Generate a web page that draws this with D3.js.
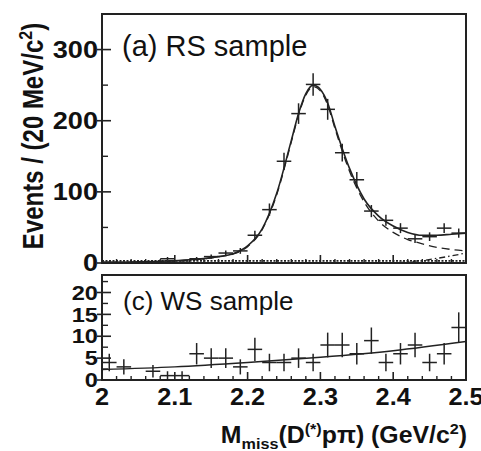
<!DOCTYPE html>
<html>
<head>
<meta charset="utf-8">
<script src="https://cdn.jsdelivr.net/npm/d3@7"></script>
<style>
  body { margin: 0; background: #fff; }
  text { font-family: "Liberation Sans", Arial, sans-serif; fill: #111; }
</style>
</head>
<body>
<svg id="chart" width="481" height="451"></svg>
<script>
// bin centres (20 MeV bins)
const massBins = [2.01, 2.03, 2.05, 2.07, 2.09, 2.11, 2.13, 2.15, 2.17, 2.19, 2.21, 2.23, 2.25,
                  2.27, 2.29, 2.31, 2.33, 2.35, 2.37, 2.39, 2.41, 2.43, 2.45, 2.47, 2.49];
const rsCounts = [1, 0, 1, 1, 6, 1, 6, 9, 14, 17, 39, 75, 143,
                  210, 251, 216, 155, 117, 73, 60, 49, 34, 37, 49, 42];
const wsCounts = [4, 3, 0, 2, 1, 1, 6, 5, 5, 3, 7, 4, 4,
                  5, 4, 8, 8, 6, 9, 4, 6, 8, 4, 6, 12];

// fit curves
const rsFitMass   = [2.00, 2.04, 2.08, 2.12, 2.16, 2.18, 2.20, 2.22, 2.24, 2.26, 2.27, 2.28, 2.29,
                     2.30, 2.31, 2.32, 2.34, 2.36, 2.38, 2.40, 2.42, 2.44, 2.46, 2.48, 2.50];
const rsFitTotal  = [1, 1.5, 2.5, 4.5, 9, 13, 24, 48, 98, 172, 210, 238, 250,
                     244, 225, 192, 133, 90, 66, 52, 43, 39, 39, 40.5, 42];
const rsFitSignal = [0.5, 1, 2, 4, 8.5, 12.5, 23, 47, 96, 170, 208, 236, 248,
                     242, 222, 189, 129, 86, 59, 43, 33, 27, 22, 19, 17];
const rsFitBkg    = [0, 0, 0, 0, 0, 0, 0, 0, 0, 0, 0, 0, 0,
                     0, 0, 0, 0, 0, 0, 0.5, 1.5, 3.5, 6.5, 10, 14];
const rsFlatMass  = [2.00, 2.50];
const rsFlatBkg   = [3, 3];
const wsFitMass   = [2.0, 2.1, 2.2, 2.3, 2.4, 2.5];
const wsFit       = [2.4, 3.0, 4.0, 5.2, 6.7, 8.8];

const rsTicks = [0, 100, 200, 300];
const wsTicks = [0, 5, 10, 15, 20];
const massTicks = [2, 2.1, 2.2, 2.3, 2.4, 2.5];

const svg = d3.select("#chart");
const left = 102, right = 466;
const top1 = { top: 14, bottom: 263 };
const top2 = { top: 275, bottom: 380 };

const x = d3.scaleLinear().domain([2, 2.5]).range([left, right]);
const yRS = d3.scaleLinear().domain([0, 350]).range([top1.bottom, top1.top]);
const yWS = d3.scaleLinear().domain([0, 24]).range([top2.bottom, top2.top]);

const ink = "#222";
const halfBin = 0.01;

function drawFrame(y, panel, majors, minors, labelSize, showXLabels) {
  const g = svg.append("g");
  // minor ticks inside
  g.selectAll(".ymin").data(minors).enter().append("line")
    .attr("x1", left).attr("x2", left + 6)
    .attr("y1", d => y(d)).attr("y2", d => y(d))
    .attr("stroke", ink).attr("stroke-width", 1.4);
  g.selectAll(".ymaj").data(majors).enter().append("line")
    .attr("x1", left - 5).attr("x2", left + 9)
    .attr("y1", d => y(d)).attr("y2", d => y(d))
    .attr("stroke", ink).attr("stroke-width", 1.6);
  g.selectAll(".ylab").data(majors).enter().append("text")
    .attr("transform", d => `translate(${left - 4},${y(d) + labelSize * 0.36}) scale(1.18,1)`)
    .attr("text-anchor", "end")
    .attr("font-weight", "bold")
    .attr("font-size", labelSize)
    .text(d => d);

  // x ticks on the bottom edge
  const xMinor = d3.range(2.02, 2.5, 0.02).filter(v => Math.abs(v * 10 - Math.round(v * 10)) > 1e-6);
  g.selectAll(".xmin").data(xMinor).enter().append("line")
    .attr("x1", d => x(d)).attr("x2", d => x(d))
    .attr("y1", panel.bottom).attr("y2", panel.bottom - 4)
    .attr("stroke", ink).attr("stroke-width", 1.4);
  g.selectAll(".xmaj").data(massTicks).enter().append("line")
    .attr("x1", d => x(d)).attr("x2", d => x(d))
    .attr("y1", panel.bottom).attr("y2", panel.bottom - 8)
    .attr("stroke", ink).attr("stroke-width", 1.6);
  if (showXLabels) {
    g.selectAll(".xlab").data(massTicks).enter().append("text")
      .attr("transform", d => `translate(${x(d)},405) scale(1.1,1)`)
      .attr("text-anchor", "middle")
      .attr("font-weight", "bold")
      .attr("font-size", 23)
      .text(d => d);
  }

  g.append("rect")
    .attr("x", left).attr("y", panel.top)
    .attr("width", right - left).attr("height", panel.bottom - panel.top)
    .attr("fill", "none").attr("stroke", ink).attr("stroke-width", 2);
}

function drawPoints(y, counts) {
  const pts = massBins.map((m, i) => ({ m: m, n: counts[i] })).filter(d => d.n > 0);
  const g = svg.append("g").attr("stroke", ink).attr("stroke-width", 1.5);
  g.selectAll(".h").data(pts).enter().append("line")
    .attr("x1", d => x(d.m - halfBin)).attr("x2", d => x(d.m + halfBin))
    .attr("y1", d => y(d.n)).attr("y2", d => y(d.n));
  g.selectAll(".v").data(pts).enter().append("line")
    .attr("x1", d => x(d.m)).attr("x2", d => x(d.m))
    .attr("y1", d => y(d.n - Math.sqrt(d.n))).attr("y2", d => y(d.n + Math.sqrt(d.n)));
}

function drawCurve(xs, ys, y, dash, width) {
  const line = d3.line()
    .x(d => x(d[0]))
    .y(d => y(d[1]))
    .curve(d3.curveMonotoneX);
  svg.append("path")
    .datum(xs.map((v, i) => [v, ys[i]]))
    .attr("fill", "none")
    .attr("stroke", ink)
    .attr("stroke-width", width)
    .attr("stroke-dasharray", dash)
    .attr("d", line);
}

// top panel: RS sample
drawFrame(yRS, top1, rsTicks, [50, 150, 250], 23, false);
drawCurve(rsFlatMass, rsFlatBkg, yRS, "2,1.5", 1.6);
drawCurve(rsFitMass, rsFitBkg, yRS, "6,3,1.5,3", 1.3);
drawCurve(rsFitMass, rsFitSignal, yRS, "8,5", 1.3);
drawCurve(rsFitMass, rsFitTotal, yRS, null, 1.6);
drawPoints(yRS, rsCounts);

// bottom panel: WS sample
drawFrame(yWS, top2, wsTicks, [2.5, 7.5, 12.5, 17.5, 22.5], 20, true);
drawCurve(wsFitMass, wsFit, yWS, null, 1.5);
drawPoints(yWS, wsCounts);

// panel labels
svg.append("text").attr("x", 122).attr("y", 56)
  .attr("font-size", 29).text("(a) RS sample");
svg.append("text").attr("x", 123).attr("y", 310)
  .attr("font-size", 26).text("(c) WS sample");

// axis titles
const yTitle = svg.append("text")
  .attr("transform", "translate(43,136) scale(1.2,1) rotate(-90)")
  .attr("text-anchor", "middle")
  .attr("font-weight", "bold")
  .attr("font-size", 24);
yTitle.append("tspan").text("Events / (20 MeV/c");
yTitle.append("tspan").attr("dy", -9).attr("font-size", 16).text("2");
yTitle.append("tspan").attr("dy", 9).text(")");

const xTitle = svg.append("text")
  .attr("transform", "translate(467,443) scale(1.08,1)")
  .attr("text-anchor", "end")
  .attr("font-weight", "bold")
  .attr("font-size", 23);
xTitle.append("tspan").text("M");
xTitle.append("tspan").attr("dy", 6).attr("font-size", 15).text("miss");
xTitle.append("tspan").attr("dy", -6).text("(D");
xTitle.append("tspan").attr("dy", -9).attr("font-size", 15).text("(*)");
xTitle.append("tspan").attr("dy", 9).text("p\u03c0) (GeV/c");
xTitle.append("tspan").attr("dy", -9).attr("font-size", 15).text("2");
xTitle.append("tspan").attr("dy", 9).text(")");
</script>
</body>
</html>
